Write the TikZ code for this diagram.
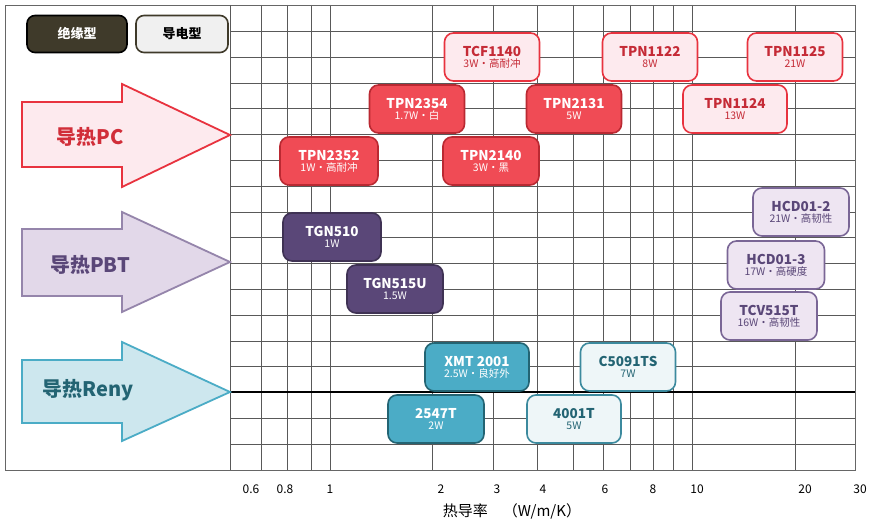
\documentclass[tikz,border=0pt]{standalone}
\usepackage{fontspec}
\setmainfont{Noto Sans CJK SC}

\definecolor{pcred}{HTML}{E8333F}
\definecolor{pcfill}{HTML}{F04B55}
\definecolor{pclt}{HTML}{FDEAEE}
\definecolor{pbtdark}{HTML}{5A4778}
\definecolor{pbtline}{HTML}{7A6696}
\definecolor{pbtlt}{HTML}{EEE5F2}
\definecolor{renyteal}{HTML}{4BACC6}
\definecolor{renydark}{HTML}{236473}
\definecolor{renylt}{HTML}{EEF6F8}
\definecolor{olive}{HTML}{3F3A2A}

\tikzset{
  prod/.style={rectangle, rounded corners=9pt, line width=1.6pt, align=center,
    inner sep=1pt, minimum height=48pt, font=\fontsize{13.5}{14}\selectfont\bfseries},
  pcbox/.style={prod, draw=pcred!80!black, fill=pcfill, text=white},
  pclight/.style={prod, draw=pcred, fill=pclt, text=pcred!85!black},
  pbtbox/.style={prod, draw=pbtdark!70!black, fill=pbtdark, text=white},
  pbtlight/.style={prod, draw=pbtline, fill=pbtlt, text=pbtdark},
  renybox/.style={prod, draw=renydark, fill=renyteal, text=white},
  renylight/.style={prod, draw=renyteal!80!black, fill=renylt, text=renydark},
  kind/.style={rectangle, rounded corners=8pt, line width=1.6pt, minimum width=100pt,
    minimum height=37pt, font=\fontsize{13}{14}\selectfont\bfseries},
  family/.style={line width=1.8pt, line join=miter},
  famlabel/.style={font=\fontsize{20}{20}\selectfont\bfseries},
  grid line/.style={draw=black!65, line width=0.8pt},
  tick/.style={font=\fontsize{12}{13}\selectfont},
}
\newcommand{\sub}[1]{\\[-3pt]{\fontsize{10.5}{11}\selectfont\mdseries #1}}

\begin{document}
\begin{tikzpicture}[x=1pt,y=-1pt]
  \useasboundingbox[fill=white] (0,0) rectangle (871,526);

  % grid
  \foreach \gx in {261,287,311,330,432,493,537,573,603,630,653,673,692,795}
    \draw[grid line] (\gx,5) -- (\gx,470);
  \foreach \gy in {31,57,83,108,134,160,186,212,237,263,289,315,341,366,418,444}
    \draw[grid line] (230,\gy) -- (855,\gy);
  \draw[black, line width=1.3pt] (230,392) -- (855,392);
  \draw[black!60, line width=0.8pt] (5,5) rectangle (855,470);
  \draw[black!65, line width=0.8pt] (230,5) -- (230,470);

  % axis
  \foreach \lx/\lt in {251/0.6,285/0.8,330/1,441/2,497/3,543/4,605/6,653/8,697/10,805/20,860/30}
    \node (tick\lt) [tick] at (\lx,489) {\lt};
  \node (axis) [font=\fontsize{15}{16}\selectfont] at (512,511) {热导率\quad （W/m/K）};

  % legend
  \node (insul) [kind, draw=black, fill=olive, text=white] at (77,34) {绝缘型};
  \node (cond) [kind, draw=olive, fill=black!6, text=black, minimum width=92pt] at (182,34) {导电型};

  % family arrows
  \draw[family, draw=pcred, fill=pclt] (22,102) -- (122,102) -- (122,84) -- (230,135)
    -- (122,187) -- (122,167) -- (22,167) -- cycle;
  \node (pclabel) [famlabel, text=pcred!90!black] at (90,137) {导热PC};
  \draw[family, draw=pbtline!80, fill=pbtlt!90!pbtline] (22,229) -- (122,229) -- (122,212) -- (230,262)
    -- (122,312) -- (122,296) -- (22,296) -- cycle;
  \node (pbtlabel) [famlabel, text=pbtdark] at (90,265) {导热PBT};
  \draw[family, draw=renyteal, fill=renylt!80!renyteal] (22,360) -- (122,360) -- (122,342) -- (230,392)
    -- (122,441) -- (122,423) -- (22,423) -- cycle;
  \node (renylabel) [famlabel, text=renydark] at (88,390) {导热Reny};

  % PC grades
  \node (tcf1140) [pclight, minimum width=95pt] at (492,57) {TCF1140\sub{3W·高耐冲}};
  \node (tpn1122) [pclight, minimum width=95pt] at (650,57) {TPN1122\sub{8W}};
  \node (tpn1125) [pclight, minimum width=95pt] at (795,57) {TPN1125\sub{21W}};
  \node (tpn2354) [pcbox, minimum width=95pt] at (417,109) {TPN2354\sub{1.7W·白}};
  \node (tpn2131) [pcbox, minimum width=95pt] at (574,109) {TPN2131\sub{5W}};
  \node (tpn1124) [pclight, minimum width=104pt] at (735,109) {TPN1124\sub{13W}};
  \node (tpn2352) [pcbox, minimum width=98pt] at (329,161) {TPN2352\sub{1W·高耐冲}};
  \node (tpn2140) [pcbox, minimum width=96pt] at (491,161) {TPN2140\sub{3W·黑}};

  % PBT grades
  \node (hcd012) [pbtlight, minimum width=96pt] at (801,212) {HCD01-2\sub{21W·高韧性}};
  \node (tgn510) [pbtbox, minimum width=98pt] at (332,237) {TGN510\sub{1W}};
  \node (hcd013) [pbtlight, minimum width=97pt] at (776,265) {HCD01-3\sub{17W·高硬度}};
  \node (tgn515u) [pbtbox, minimum width=96pt] at (395,289) {TGN515U\sub{1.5W}};
  \node (tcv515t) [pbtlight, minimum width=96pt] at (769,316) {TCV515T\sub{16W·高韧性}};

  % Reny grades
  \node (xmt2001) [renybox, minimum width=104pt] at (477,367) {XMT 2001\sub{2.5W·良好外}};
  \node (c5091ts) [renylight, minimum width=95pt] at (628,367) {C5091TS\sub{7W}};
  \node (t2547) [renybox, minimum width=96pt] at (436,419) {2547T\sub{2W}};
  \node (t4001) [renylight, minimum width=94pt] at (574,419) {4001T\sub{5W}};
\end{tikzpicture}
\end{document}
